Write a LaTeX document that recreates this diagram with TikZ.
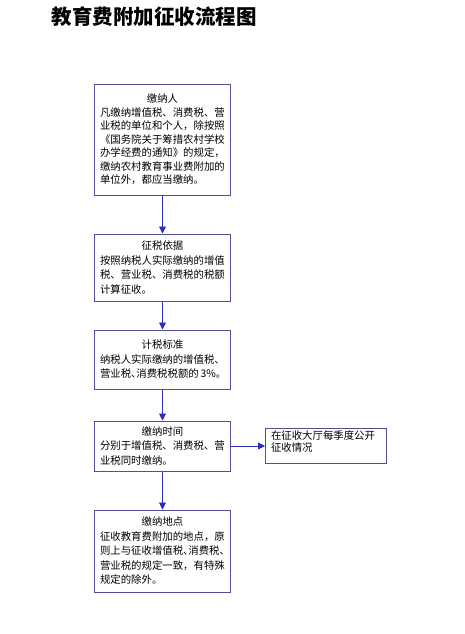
\documentclass[tikz,border=0pt]{standalone}
\usepackage{fontspec}
\setmainfont{Noto Sans CJK SC}
\usetikzlibrary{arrows.meta}
\definecolor{boxline}{RGB}{85,78,150}
\definecolor{flowline}{RGB}{45,45,185}
\newcommand{\halfdun}{\makebox[0.5em][l]{、}}

\begin{document}
\begin{tikzpicture}[x=1pt,y=-1pt,
    box/.style={draw=boxline,line width=1pt,fill=white,text width=125pt,inner xsep=5.5pt,inner ysep=3pt,font=\fontsize{10.4}{14.5}\selectfont},
    flow/.style={draw=flowline,line width=0.9pt,-{Triangle[length=7pt,width=7pt]}}]
            \useasboundingbox (0,0) rectangle (465,634);
            \node[font=\fontsize{20.5}{24}\selectfont\bfseries] (title) at (154,17) {教育费附加征收流程图};
            \node[box,minimum height=111pt,font=\fontsize{10.4}{13.5}\selectfont] (payer) at (162.5,139.5) {\centering 缴纳人\par\raggedright 凡缴纳增值税、消费税、营\\业税的单位和个人，除按照\\《国务院关于筹措农村学校\\办学经费的通知》的规定，\\缴纳农村教育事业费附加的\\单位外，都应当缴纳。};
            \node[box,minimum height=67pt] (basis) at (162.5,267.5) {\centering 征税依据\par\raggedright 按照纳税人实际缴纳的增值\\税、营业税、消费税的税额\\计算征收。};
            \node[box,minimum height=59pt] (rate) at (162.5,359.5) {\centering 计税标准\par\raggedright 纳税人实际缴纳的增值税、\\\mbox{营业税\halfdun 消费税税额的\,3\%。}};
            \node[box,minimum height=50pt] (time) at (162.5,446) {\centering 缴纳时间\par\raggedright 分别于增值税、消费税、营\\业税同时缴纳。};
            \node[box,minimum height=82pt] (place) at (162.5,551) {\centering 缴纳地点\par\raggedright 征收教育费附加的地点，原\\则上与征收增值税\halfdun 消费税\halfdun\\营业税的规定一致，有特殊\\规定的除外。};
            \node[box,text width=110pt,minimum width=120pt,font=\fontsize{10.4}{12}\selectfont] (publicity) at (326,446) {在征收大厅每季度公开\\征收情况\rule[-9pt]{0pt}{9pt}};
            \draw[flow] (payer.south) -- (basis.north);
            \draw[flow] (basis.south) -- (rate.north);
            \draw[flow] (rate.south) -- (time.north);
            \draw[flow] (time.south) -- (place.north);
            \draw[flow] (time.east) -- (publicity.west);
        \end{tikzpicture}
\end{document}
